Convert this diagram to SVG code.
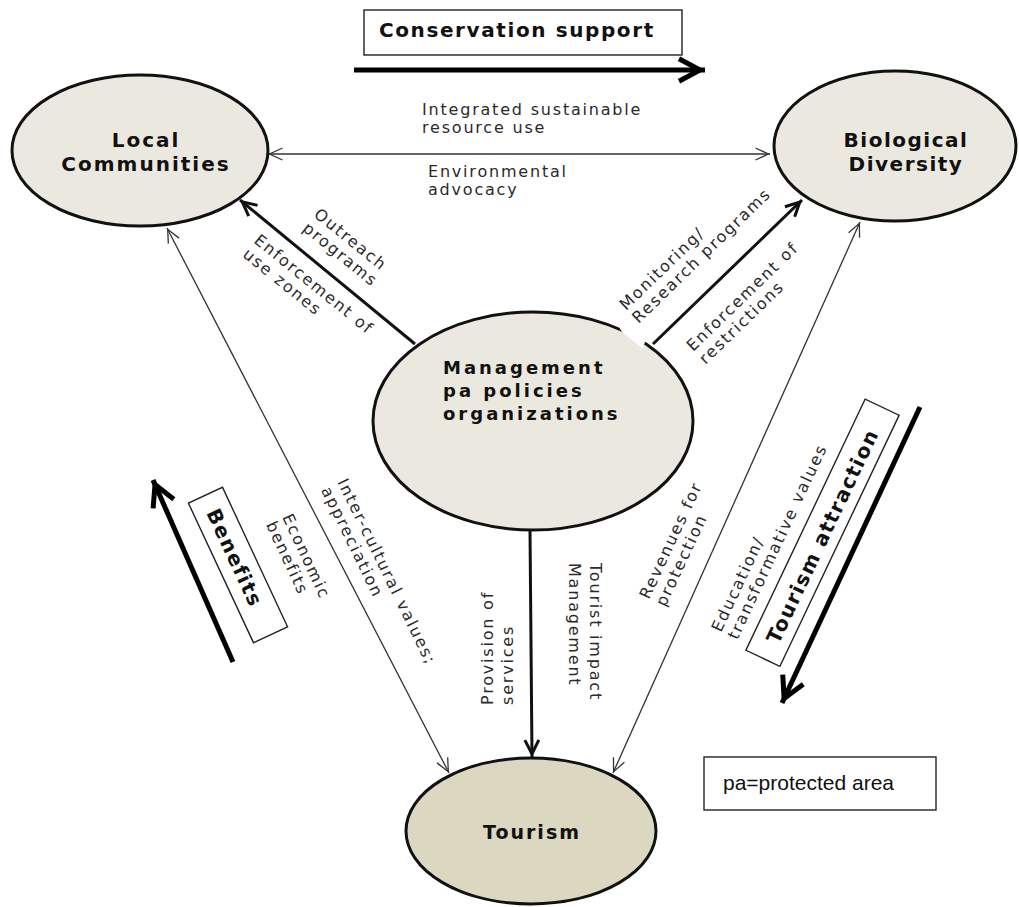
<svg xmlns="http://www.w3.org/2000/svg" width="1019" height="907" viewBox="0 0 1019 907">
<style>
.lbl{font-family:"DejaVu Sans",Verdana,sans-serif;font-size:16px;letter-spacing:1.8px;fill:#2a2a2a}
.nd{font-family:"DejaVu Sans",Verdana,sans-serif;font-weight:bold;fill:#111}
.ell{stroke:#111;stroke-width:3}
.thin{stroke:#333;stroke-width:1.3;fill:none}
.med{stroke:#111;stroke-width:3;fill:none}
.thick{stroke:#000;stroke-width:5;fill:none}
.box{fill:#fff;stroke:#222;stroke-width:1.4}
</style>
<defs>
<marker id="aThin" viewBox="-20 -10 24 20" refX="1.5" refY="0" markerWidth="24" markerHeight="20" markerUnits="userSpaceOnUse" orient="auto-start-reverse" overflow="visible">
<path d="M-13,-6 L0,0 L-13,6" fill="none" stroke="#333" stroke-width="1.3"/>
</marker>
<marker id="aMed" viewBox="-20 -10 24 20" refX="3" refY="0" markerWidth="24" markerHeight="20" markerUnits="userSpaceOnUse" orient="auto" overflow="visible">
<path d="M-14,-7 L0,0 L-14,7" fill="none" stroke="#111" stroke-width="3"/>
</marker>
<marker id="aThick" viewBox="-30 -15 34 30" refX="5" refY="0" markerWidth="34" markerHeight="30" markerUnits="userSpaceOnUse" orient="auto" overflow="visible">
<path d="M-21,-11.3 L0,0 L-21,11.3" fill="none" stroke="#000" stroke-width="5"/>
</marker>
</defs>
<rect width="1019" height="907" fill="#fff"/>

<g id="connectors">
<line class="thin" x1="268" y1="154" x2="770" y2="154" marker-start="url(#aThin)" marker-end="url(#aThin)"/>
<line class="thin" x1="167" y1="228" x2="449" y2="773" marker-start="url(#aThin)" marker-end="url(#aThin)"/>
<line class="thin" x1="860" y1="222" x2="613" y2="773" marker-start="url(#aThin)" marker-end="url(#aThin)"/>
<line class="med" x1="415" y1="344" x2="240" y2="200" marker-end="url(#aMed)"/>
<line class="med" x1="653" y1="344" x2="802" y2="200" marker-end="url(#aMed)"/>
<line class="med" x1="530" y1="530" x2="532" y2="757" marker-end="url(#aMed)"/>
</g>

<g id="local-communities">
<ellipse class="ell" cx="140" cy="150.5" rx="128" ry="75.5" fill="#ebe9df"/>
<text class="nd" font-size="20" letter-spacing="2" text-anchor="middle"><tspan x="146" y="147">Local</tspan><tspan x="146" y="171">Communities</tspan></text>
</g>

<g id="biological-diversity">
<ellipse class="ell" cx="895" cy="146" rx="121" ry="75" fill="#ebe9df"/>
<text class="nd" font-size="20" letter-spacing="1.5" text-anchor="middle"><tspan x="906" y="147">Biological</tspan><tspan x="906" y="171">Diversity</tspan></text>
</g>

<g id="management">
<ellipse class="ell" cx="533" cy="421" rx="160" ry="109" fill="#ebe9df"/>
<polygon points="619,327 647,339 642,348 622,332" fill="#fff"/>
<text class="nd" font-size="18" letter-spacing="3"><tspan x="443" y="374">Management</tspan><tspan x="443" y="397">pa policies</tspan><tspan x="443" y="420">organizations</tspan></text>
</g>

<g id="tourism">
<ellipse class="ell" cx="531" cy="831" rx="125" ry="73" fill="#dbd7c1"/>
<text class="nd" font-size="19" letter-spacing="2" text-anchor="middle" x="532" y="839">Tourism</text>
</g>

<g id="conservation-support">
<rect class="box" x="364" y="10" width="318" height="45"/>
<text class="nd" font-size="20" letter-spacing="1.6" x="379" y="37">Conservation support</text>
<line class="thick" x1="354" y1="70" x2="705" y2="70" marker-end="url(#aThick)"/>
</g>

<g id="benefits">
<g transform="translate(238,565) rotate(65)">
<rect class="box" x="-77" y="-18.8" width="154" height="37.6"/>
<text class="nd" font-size="20" letter-spacing="1.5" text-anchor="middle" x="-8" y="7">Benefits</text>
</g>
<line class="thick" x1="233" y1="662" x2="153" y2="480" marker-end="url(#aThick)"/>
</g>

<g id="tourism-attraction">
<g transform="translate(822.5,532.75) rotate(-64.6)">
<rect class="box" x="-139" y="-18.8" width="278" height="37.6"/>
<text class="nd" font-size="20" letter-spacing="1.5" text-anchor="middle" x="-3" y="8.5">Tourism attraction</text>
</g>
<line class="thick" x1="920" y1="407" x2="782" y2="703" marker-end="url(#aThick)"/>
</g>

<g id="labels">
<text class="lbl"><tspan x="422" y="115">Integrated sustainable</tspan><tspan x="422" y="133">resource use</tspan></text>
<text class="lbl"><tspan x="428" y="177">Environmental</tspan><tspan x="428" y="195">advocacy</tspan></text>
<text class="lbl" transform="translate(313,216) rotate(39)"><tspan x="0" y="0">Outreach</tspan><tspan x="0" y="18">programs</tspan></text>
<text class="lbl" transform="translate(253,242) rotate(39)"><tspan x="0" y="0">Enforcement of</tspan><tspan x="0" y="18">use zones</tspan></text>
<text class="lbl" transform="translate(626,311) rotate(-44)"><tspan x="0" y="0">Monitoring/</tspan><tspan x="0" y="18">Research programs</tspan></text>
<text class="lbl" transform="translate(693,352) rotate(-44)"><tspan x="0" y="0">Enforcement of</tspan><tspan x="0" y="18">restrictions</tspan></text>
<text class="lbl" transform="translate(337,482) rotate(64)"><tspan x="0" y="0">Inter-cultural values;</tspan><tspan x="0" y="18">appreciation</tspan></text>
<text class="lbl" transform="translate(282,517) rotate(65)"><tspan x="0" y="0">Economic</tspan><tspan x="0" y="18">benefits</tspan></text>
<text class="lbl" transform="translate(493,705) rotate(-90)"><tspan x="0" y="0">Provision of</tspan><tspan x="0" y="20">services</tspan></text>
<text class="lbl" transform="translate(590,563) rotate(90)"><tspan x="0" y="0">Tourist impact</tspan><tspan x="0" y="21">Management</tspan></text>
<text class="lbl" transform="translate(649,600) rotate(-65)"><tspan x="0" y="0">Revenues for</tspan><tspan x="0" y="18">protection</tspan></text>
<text class="lbl" transform="translate(721,633) rotate(-65)"><tspan x="0" y="0">Education/</tspan><tspan x="0" y="18">transformative values</tspan></text>
</g>

<g id="legend">
<rect class="box" x="704" y="757" width="232" height="53"/>
<text x="723" y="790" font-family="'Liberation Sans',Arial,sans-serif" font-size="21" fill="#111">pa=protected area</text>
</g>
</svg>
